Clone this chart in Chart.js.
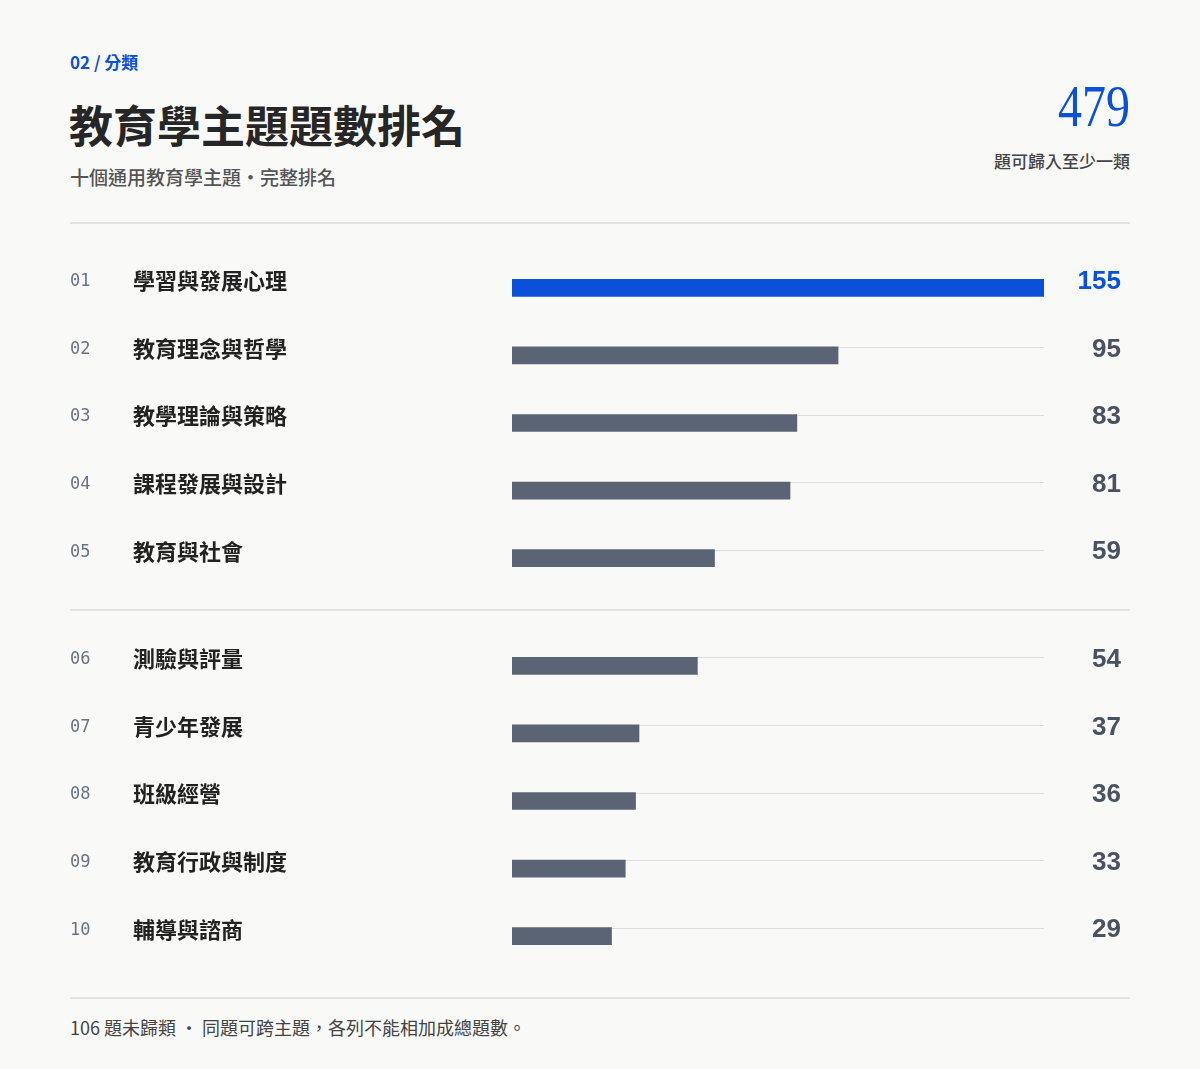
<!DOCTYPE html>
<html><head><meta charset="utf-8">
<script src="https://cdn.jsdelivr.net/npm/chart.js@4/dist/chart.umd.min.js"></script>
<style>
body{margin:0;background:#f9f9f8;font-family:"Noto Sans CJK TC","Noto Sans",sans-serif;}
#wrap{position:relative;width:1200px;height:1069px;overflow:hidden}
.t{position:absolute;white-space:nowrap}
.hr{position:absolute;left:70px;width:1060px;height:2px;background:#e3e3e1}
canvas{position:absolute}
</style></head><body><div id="wrap">
<div class="t" style="left:70px;top:49px;font-size:17px;font-weight:700;color:#0a50d8">02 / 分類</div>
<div class="t" style="left:69px;top:92px;font-size:44px;font-weight:700;color:#262626;font-family:'Noto Sans CJK TC'">教育學主題題數排名</div>
<div class="t" style="left:70px;top:163px;font-size:19px;font-weight:500;color:#555">十個通用教育學主題・完整排名</div>
<div class="t" style="right:70px;top:72px;font-size:60px;color:#0a50d8;font-family:'Liberation Serif',serif;transform:scaleX(0.8);transform-origin:right">479</div>
<div class="t" style="right:70px;top:148px;font-size:17px;font-weight:500;color:#444">題可歸入至少一類</div>
<div class="hr" style="top:222px"></div>
<div class="hr" style="top:609px"></div>
<div class="hr" style="top:997px"></div>
<div class="t" style="left:70px;top:1014px;font-size:18px;color:#444">106 題未歸類 · 同題可跨主題，各列不能相加成總題數。</div>
<canvas id="c1" width="1200" height="338" style="left:0;top:254px;width:1200px;height:338px"></canvas>
<canvas id="c2" width="1200" height="338" style="left:0;top:632px;width:1200px;height:338px"></canvas>
</div>
<script>
const ranks=["01","02","03","04","05","06","07","08","09","10"];
const topics=["學習與發展心理","教育理念與哲學","教學理論與策略","課程發展與設計","教育與社會","測驗與評量","青少年發展","班級經營","教育行政與制度","輔導與諮商"];
const counts=[155,95,83,81,59,54,37,36,33,29];
const maxVal=155;
const rowPlugin={id:'rows',
 beforeDatasetsDraw(ch){const c=ch.ctx,x=ch.scales.x,y=ch.scales.y;c.save();c.strokeStyle='#dedede';c.lineWidth=1;
  ch.data.labels.forEach((l,i)=>{const yy=Math.round(y.getPixelForValue(i)-8.5)+0.5;c.beginPath();c.moveTo(x.left,yy);c.lineTo(x.right,yy);c.stroke();});c.restore();},
 afterDatasetsDraw(ch){const c=ch.ctx,y=ch.scales.y,o=ch.options.plugins.rows.offset;c.save();c.textBaseline='middle';
  ch.data.labels.forEach((l,i)=>{const yy=y.getPixelForValue(i)-7,k=o+i;
   c.fillStyle='#6b7280';c.font='17px "DejaVu Sans Mono",monospace';c.textAlign='left';c.fillText(ranks[k],70,yy+1);
   c.fillStyle='#222';c.font='bold 22px "Noto Sans CJK TC"';c.fillText(topics[k],133,yy);
   c.fillStyle=k===0?'#0a50d8':'#4a5262';c.font='bold 26px "Liberation Sans",sans-serif';c.textAlign='right';c.fillText(String(counts[k]),1121,yy+1);});
  c.restore();}};
function make(id,off){
 const n=5;
 new Chart(document.getElementById(id),{type:'bar',
  data:{labels:topics.slice(off,off+n),datasets:[{data:counts.slice(off,off+n),
   backgroundColor:counts.slice(off,off+n).map((v,i)=>off+i===0?'#0a50d8':'#5a6475'),barThickness:17,borderSkipped:false}]},
  options:{indexAxis:'y',responsive:false,animation:false,devicePixelRatio:1,
   layout:{padding:{left:512,right:156,top:0,bottom:0}},
   scales:{x:{min:0,max:maxVal,display:false},y:{display:false}},
   plugins:{legend:{display:false},tooltip:{enabled:false},rows:{offset:off}}},
  plugins:[rowPlugin]});
}
make('c1',0);make('c2',5);
</script></body></html>
